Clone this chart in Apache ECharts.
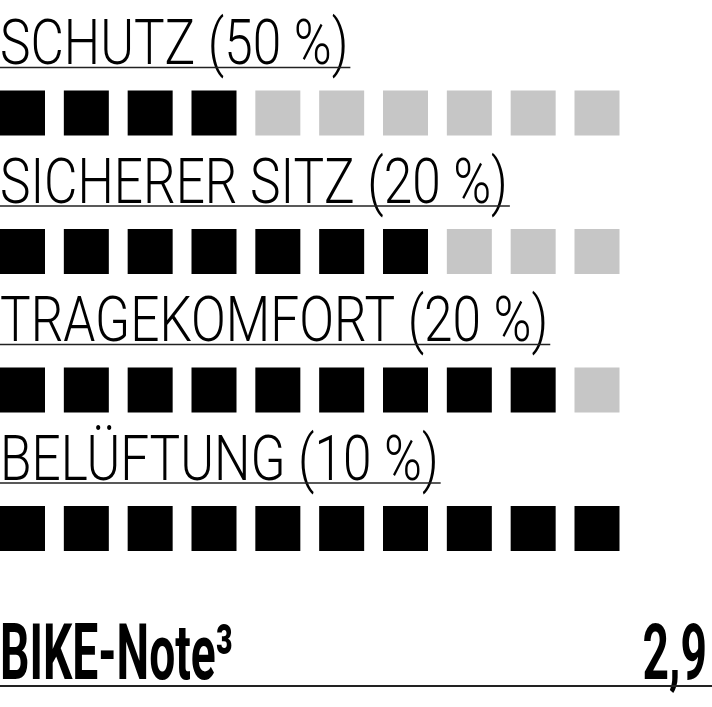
<!DOCTYPE html>
<html>
<head>
<meta charset="utf-8">
<script src="https://cdn.jsdelivr.net/npm/echarts@6/dist/echarts.min.js"></script>
<style>html,body{margin:0;padding:0;background:#fff;}#c{width:712px;height:707px;}</style>
</head>
<body>
<div id="c"></div>
<script>
const categories = ['SCHUTZ', 'SICHERER SITZ', 'TRAGEKOMFORT', 'BELÜFTUNG'];
const weights = [50, 20, 20, 10];
const filled = [4, 7, 9, 10];
const totalSquares = 10;
const noteLabel = 'BIKE-Note³';
const noteValue = '2,9';

const LABEL_FONT = '300 63px Roboto';
const LABEL_SCALE = 0.815;
const NOTE_FONT = 'bold 77px Roboto';
const NOTE_SCALE = 0.6;

const mctx = document.createElement('canvas').getContext('2d');
function textWidth(t, font) { mctx.font = font; return mctx.measureText(t).width; }

const chart = echarts.init(document.getElementById('c'), null, {renderer: 'canvas'});
const SQ = 45;

chart.setOption({
  animation: false,
  backgroundColor: '#fff',
  grid: {left: 22.5, right: 115, top: 113, bottom: 178.5},
  xAxis: {type: 'value', min: 0, max: totalSquares - 1, show: false},
  yAxis: {type: 'value', min: 0, max: categories.length - 1, inverse: true, show: false},
  series: [{
    type: 'custom',
    silent: true,
    data: categories.map((c, i) => [i, filled[i]]),
    renderItem: function (params, api) {
      const row = api.value(0);
      const n = api.value(1);
      const children = [];
      for (let i = 0; i < totalSquares; i++) {
        const p = api.coord([i, row]);
        children.push({
          type: 'rect',
          shape: {x: p[0] - SQ / 2, y: p[1] - SQ / 2, width: SQ, height: SQ},
          style: {fill: i < n ? '#000' : '#c6c6c6'}
        });
      }
      const p0 = api.coord([0, row]);
      const top = p0[1] - SQ / 2;
      const label = categories[params.dataIndex] + ' (' + weights[params.dataIndex] + ' %)';
      const w = textWidth(label, LABEL_FONT) * LABEL_SCALE;
      children.push({
        type: 'text',
        x: 0, y: top - 42,
        scaleX: LABEL_SCALE,
        style: {text: label, font: LABEL_FONT, fill: '#000', align: 'left', verticalAlign: 'middle'}
      });
      children.push({
        type: 'line',
        shape: {x1: 0, y1: top - 23, x2: w + 2, y2: top - 23},
        style: {stroke: '#222', lineWidth: 1.5}
      });
      return {type: 'group', children: children};
    }
  }],
  graphic: [
    {type: 'text', x: 0, y: 660, scaleX: NOTE_SCALE,
      style: {text: noteLabel, font: NOTE_FONT, fill: '#000', align: 'left', verticalAlign: 'middle'}},
    {type: 'text', x: 707, y: 660, scaleX: NOTE_SCALE,
      style: {text: noteValue, font: NOTE_FONT, fill: '#000', align: 'right', verticalAlign: 'middle'}},
    {type: 'line', shape: {x1: 0, y1: 686, x2: 712, y2: 686}, style: {stroke: '#222', lineWidth: 2}}
  ]
});
</script>
</body>
</html>
